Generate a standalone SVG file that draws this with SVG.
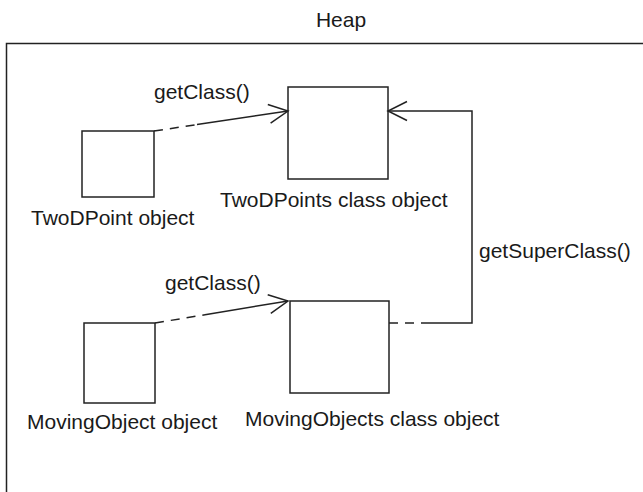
<svg xmlns="http://www.w3.org/2000/svg" width="643" height="492" viewBox="0 0 643 492">
  <style>
    .box { fill: none; stroke: #222; stroke-width: 1.5; }
    .line { fill: none; stroke: #222; stroke-width: 1.5; }
    .dash { stroke-dasharray: 9 7; }
    .lbl { font-family: "Liberation Sans", Arial, sans-serif; font-size: 21px; fill: #1a1a1a; }
  </style>
  <defs>
    <marker id="open" markerUnits="userSpaceOnUse" markerWidth="24" markerHeight="24" viewBox="-22 -12 24 24" refX="0" refY="0" orient="auto">
      <path d="M-19,-9.5 L0,0 L-19,9.5" fill="none" stroke="#222" stroke-width="1.5"/>
    </marker>
  </defs>

  <rect width="643" height="492" fill="#fff"/>

  <!-- heap region: open to the right and bottom -->
  <g id="heap">
    <path class="line" d="M643,43.5 H6.5 V492"/>
    <text class="lbl" x="341" y="27" text-anchor="middle">Heap</text>
  </g>

  <g id="twodpoint-object">
    <rect class="box" x="82" y="131" width="72" height="66"/>
    <text class="lbl" x="31" y="225">TwoDPoint object</text>
  </g>

  <g id="twodpoints-class">
    <rect class="box" x="288" y="87" width="100" height="92"/>
    <text class="lbl" x="220" y="207">TwoDPoints class object</text>
  </g>

  <g id="movingobject-object">
    <rect class="box" x="84" y="323" width="71" height="80"/>
    <text class="lbl" x="27" y="429">MovingObject object</text>
  </g>

  <g id="movingobjects-class">
    <rect class="box" x="290" y="301" width="99" height="92"/>
    <text class="lbl" x="245" y="426">MovingObjects class object</text>
  </g>

  <g id="connectors">
    <!-- TwoDPoint object -> TwoDPoints class object -->
    <line class="line dash" x1="154" y1="131" x2="197" y2="124.6"/>
    <line class="line" x1="197" y1="124.6" x2="288" y2="111" marker-end="url(#open)"/>
    <text class="lbl" x="154" y="99">getClass()</text>

    <!-- MovingObject object -> MovingObjects class object -->
    <line class="line dash" x1="155" y1="323" x2="205" y2="314.7"/>
    <line class="line" x1="205" y1="314.7" x2="288" y2="301" marker-end="url(#open)"/>
    <text class="lbl" x="165" y="290">getClass()</text>

    <!-- MovingObjects class object -> TwoDPoints class object -->
    <line class="line dash" x1="389" y1="323" x2="425" y2="323"/>
    <polyline class="line" points="425,323 472,323 472,111 388,111" marker-end="url(#open)"/>
    <text class="lbl" x="479" y="258">getSuperClass()</text>
  </g>
</svg>
